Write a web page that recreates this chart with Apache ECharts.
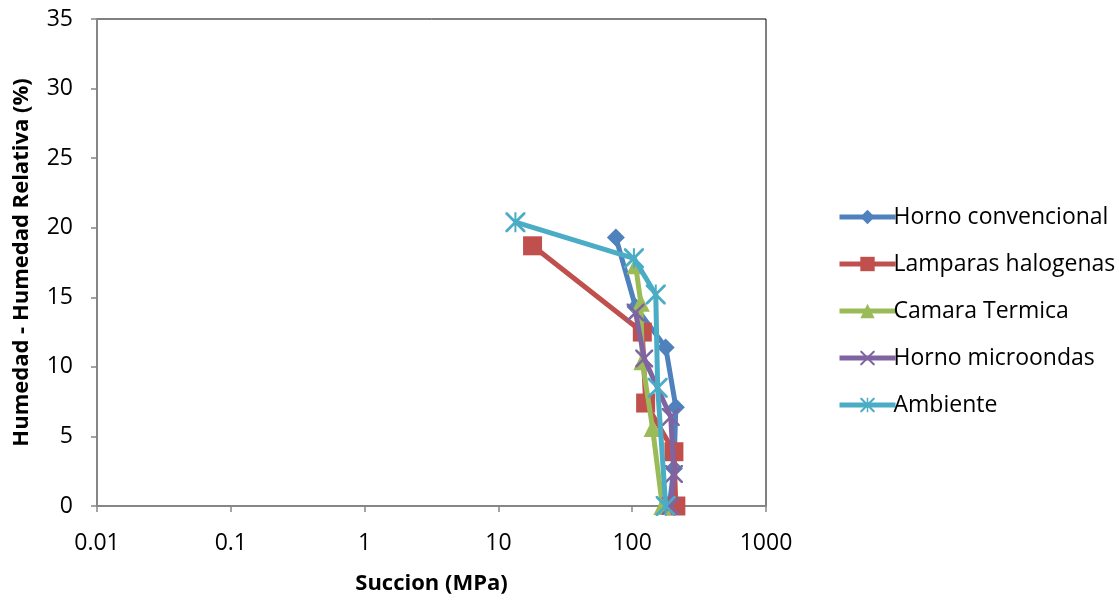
<!DOCTYPE html>
<html><head><meta charset="utf-8">
<script src="https://cdn.jsdelivr.net/npm/echarts@6/dist/echarts.min.js"></script>
<style>html,body{margin:0;padding:0;background:#fff}#c{width:1119px;height:600px}</style>
</head><body><div id="c"></div>
<script>
const seriesNames = ['Horno convencional','Lamparas halogenas','Camara Termica','Horno microondas','Ambiente'];
const hornoX = [75.5, 106, 178, 212, 205, 189];
const hornoY = [19.3, 14.3, 11.4, 7.1, 2.7, 0.0];
const lamparasX = [18, 119, 126, 205, 212];
const lamparasY = [18.7, 12.5, 7.4, 3.9, 0.0];
const camaraX = [106, 116, 119, 142, 168];
const camaraY = [17.3, 14.6, 10.4, 5.6, 0.0];
const microX = [106, 123, 194, 205, 194];
const microY = [13.9, 10.6, 6.4, 2.3, 0.0];
const ambienteX = [13.4, 103, 150, 155, 178];
const ambienteY = [20.4, 17.8, 15.2, 8.5, 0.0];
const yTicks = [0, 5, 10, 15, 20, 25, 30, 35];
const xTickLabels = ['0.01','0.1','1','10','100','1000'];

const colors = ['#4F81BD','#C0504D','#9BBB59','#8064A2','#4BACC6'];
const xPath = 'path://M0,0 L2,0 L10,8 L18,0 L20,0 L20,2 L12,10 L20,18 L20,20 L18,20 L10,12 L2,20 L0,20 L0,18 L8,10 L0,2 Z';
const starPath = 'path://M0,0 L2,0 L10,8 L18,0 L20,0 L20,2 L12,10 L20,18 L20,20 L18,20 L10,12 L2,20 L0,20 L0,18 L8,10 L0,2 Z M9,0 L11,0 L11,20 L9,20 Z';
const symbols = ['diamond','rect','triangle',xPath,starPath];
const sizes = [18, 19, 18, 18, 20];
const xs = [hornoX, lamparasX, camaraX, microX, ambienteX];
const ys = [hornoY, lamparasY, camaraY, microY, ambienteY];
const font = 'Open Sans';

const chart = echarts.init(document.getElementById('c'));
chart.setOption({
  animation: false,
  color: colors,
  grid: {left: 97, right: 353, top: 19, bottom: 91, show: true, borderColor: '#000', borderWidth: 1},
  legend: {
    orient: 'vertical', left: 832, top: 199, itemWidth: 56, itemHeight: 18, itemGap: 21,
    textStyle: {fontFamily: font, fontSize: 23, color: '#000', lineHeight: 26, padding: [0,0,0,-7]},
    data: seriesNames.map((n, i) => ({name: n, lineStyle: {width: 5, color: colors[i]}}))
  },
  xAxis: {
    type: 'log', logBase: 10, min: 0.01, max: 1000,
    name: 'Succion (MPa)', nameLocation: 'middle', nameGap: 67,
    nameTextStyle: {fontFamily: font, fontWeight: 'bold', fontSize: 22, color: '#000'},
    axisLine: {lineStyle: {color: '#868686', width: 2}},
    axisTick: {show: true, length: 6, lineStyle: {color: '#868686', width: 1.5}},
    minorTick: {show: false},
    splitLine: {show: false},
    axisLabel: {fontFamily: font, fontSize: 23, color: '#000', margin: 26,
      formatter: v => { const i = Math.round(Math.log10(v)) + 2; return xTickLabels[i] !== undefined ? xTickLabels[i] : ''; }}
  },
  yAxis: {
    type: 'value', min: yTicks[0], max: yTicks[yTicks.length-1], interval: 5,
    name: 'Humedad - Humedad Relativa (%)', nameLocation: 'middle', nameGap: 64,
    nameTextStyle: {fontFamily: font, fontWeight: 'bold', fontSize: 22, color: '#000'},
    axisLine: {show: true, lineStyle: {color: '#868686', width: 2}},
    axisTick: {show: true, length: 6, lineStyle: {color: '#868686', width: 1.5}},
    splitLine: {show: false},
    axisLabel: {fontFamily: font, fontSize: 23, color: '#000', margin: 24}
  },
  series: seriesNames.map((n, i) => ({
    name: n, type: 'line',
    data: xs[i].map((x, j) => [x, ys[i][j]]),
    symbol: symbols[i], symbolSize: sizes[i], showAllSymbol: true,
    lineStyle: {width: 5, color: colors[i]},
    itemStyle: {color: colors[i]},
    z: 2 + i
  }))
});
</script></body></html>
